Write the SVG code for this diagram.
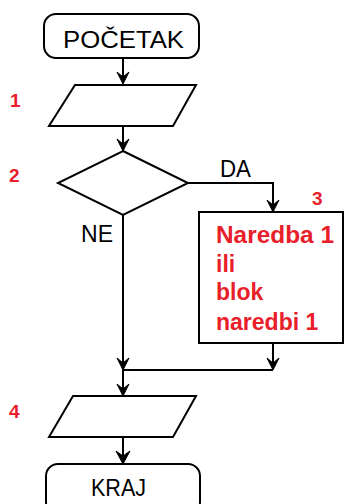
<svg xmlns="http://www.w3.org/2000/svg" width="345" height="504" viewBox="0 0 345 504">
<style>
.s{fill:#fff;stroke:#000;stroke-width:2}
.c{fill:none;stroke:#000;stroke-width:2}
.t{font-family:"Liberation Sans",Arial,sans-serif;font-size:23px;fill:#000}
.r{font-family:"Liberation Sans",Arial,sans-serif;font-weight:bold;fill:#e8202a}
.n{font-size:19px}
.b{font-size:23px}
.h{fill:#000;stroke:#000;stroke-width:1}
</style>
<rect width="345" height="504" fill="#fff"/>
<g id="connectors">
<path class="c" d="M123,58 V83"/>
<path class="c" d="M123,126 V150"/>
<path class="c" d="M187,183 H273 V211"/>
<path class="c" d="M123,215 V369"/>
<path class="c" d="M273,343 V369"/>
<path class="c" d="M123,370 H273"/>
<path class="c" d="M123,370 V395"/>
<path class="c" d="M123,437 V463"/>
<path class="h" d="M117,72 L123,84 L129,72 L123,77 Z"/>
<path class="h" d="M117,139 L123,151 L129,139 L123,144 Z"/>
<path class="h" d="M267,200 L273,212 L279,200 L273,205 Z"/>
<path class="h" d="M117,358 L123,370 L129,358 L123,363 Z"/>
<path class="h" d="M267,358 L273,370 L279,358 L273,363 Z"/>
<path class="h" d="M117,384 L123,396 L129,384 L123,389 Z"/>
<path class="h" d="M116,451 L123,464 L130,451 L123,456 Z"/>
<text class="t" x="220" y="177" textLength="31" lengthAdjust="spacingAndGlyphs">DA</text>
<text class="t" x="81" y="242" textLength="32" lengthAdjust="spacingAndGlyphs">NE</text>
</g>
<g id="start">
<rect class="s" x="44" y="14" width="155" height="44" rx="12"/>
<text class="t" x="63" y="48" textLength="121" lengthAdjust="spacingAndGlyphs">POČETAK</text>
</g>
<g id="input1">
<polygon class="s" points="75,85 196,85 173,126 49,126"/>
<text class="r n" x="10" y="107">1</text>
</g>
<g id="decision">
<polygon class="s" points="123,151 188,183 123,215 58,183"/>
<text class="r n" x="9" y="182">2</text>
</g>
<g id="block">
<rect class="s" x="199" y="212" width="144" height="131"/>
<text class="r n" x="312" y="205">3</text>
<text class="r b" x="216" y="243" textLength="118" lengthAdjust="spacingAndGlyphs">Naredba 1</text>
<text class="r b" x="216" y="272">ili</text>
<text class="r b" x="216" y="300">blok</text>
<text class="r b" x="216" y="330">naredbi 1</text>
</g>
<g id="output4">
<polygon class="s" points="73,396 196,396 173,437 49,437"/>
<text class="r n" x="9" y="418">4</text>
</g>
<g id="end">
<rect class="s" x="46" y="464" width="154" height="50" rx="12"/>
<text class="t" x="91" y="496" textLength="55" lengthAdjust="spacingAndGlyphs">KRAJ</text>
</g>
</svg>
